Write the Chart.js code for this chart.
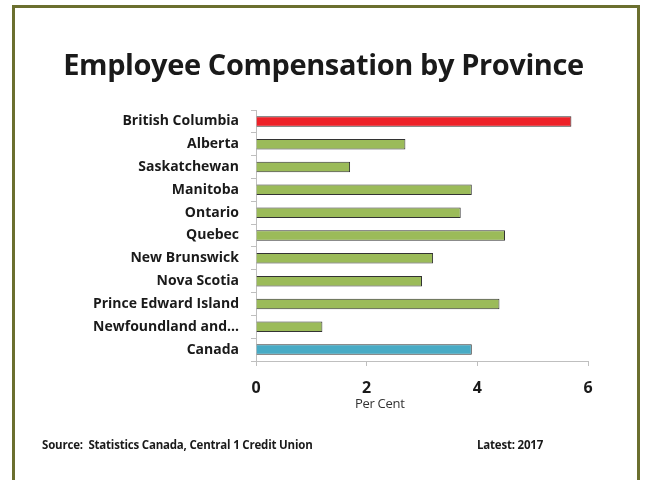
<!DOCTYPE html>
<html>
<head>
<meta charset="utf-8">
<script src="https://cdn.jsdelivr.net/npm/chart.js@4"></script>
<style>
  html, body { margin: 0; padding: 0; background: #fff; }
  #wrap { position: relative; width: 647px; height: 480px; overflow: hidden; }
  #frame { position: absolute; left: 12px; top: 5px; width: 628px; height: 490px;
           border: 3px solid #6b6f2f; box-sizing: border-box; }
  #title { position: absolute; left: 0; width: 647px; top: 44px; text-align: center;
           font-family: "Open Sans", sans-serif; font-weight: bold; font-size: 29px; color: #1a1a1a;
           letter-spacing: -0.4px; }
  .foot { position: absolute; top: 437px; font-family: "Open Sans", sans-serif; font-weight: bold;
          font-size: 11.5px; color: #1a1a1a; letter-spacing: -0.2px; white-space: pre; }
  #xtitle { position: absolute; left: 355px; top: 394px; font-family: "Open Sans", sans-serif;
            font-size: 13px; color: #333; letter-spacing: -0.3px; }
  canvas { position: absolute; left: 0; top: 0; }
</style>
</head>
<body>
<div id="wrap">
  <canvas id="myChart" width="647" height="480"></canvas>
  <div id="frame"></div>
  <div id="title">Employee Compensation by Province</div>
  <div id="xtitle">Per Cent</div>
  <div class="foot" style="left:42px">Source:  Statistics Canada, Central 1 Credit Union</div>
  <div class="foot" style="left:477px">Latest: 2017</div>
</div>
<script>
var provinces = ["British Columbia", "Alberta", "Saskatchewan", "Manitoba", "Ontario", "Quebec",
                 "New Brunswick", "Nova Scotia", "Prince Edward Island", "Newfoundland and\u2026", "Canada"];
var compensation = [5.7, 2.7, 1.7, 3.9, 3.7, 4.5, 3.2, 3.0, 4.4, 1.2, 3.9];
var xTicks = [0, 2, 4, 6];

var colors = [];
for (var i = 0; i < provinces.length; i++) {
    if (provinces[i] === "British Columbia") colors.push("#ee2128");
    else if (provinces[i] === "Canada") colors.push("#48abc5");
    else colors.push("#9bbb59");
}

var ctx = document.getElementById("myChart").getContext("2d");
var myChart = new Chart(ctx, {
    type: "bar",
    data: {
        labels: provinces,
        datasets: [{
            data: compensation,
            backgroundColor: colors,
            borderColor: "#333333",
            borderWidth: 1,
            barPercentage: 0.46,
            categoryPercentage: 1
        }]
    },
    options: {
        indexAxis: "y",
        responsive: false,
        animation: false,
        layout: { padding: { left: 0, right: 59, top: 110, bottom: 69 } },
        plugins: { legend: { display: false }, tooltip: { enabled: false } },
        scales: {
            x: {
                min: 0, max: 6,
                afterBuildTicks: function (scale) {
                    scale.ticks = xTicks.map(function (v) { return { value: v }; });
                },
                afterFit: function (scale) { scale.height = 50; },
                grid: { drawOnChartArea: false, drawTicks: true, tickLength: 5, color: "#bfbfbf" },
                border: { display: true, color: "#bfbfbf" },
                ticks: { padding: 13, color: "#1a1a1a", font: { family: "Open Sans", weight: "bold", size: 16 } }
            },
            y: {
                afterFit: function (scale) { scale.width = 256; },
                grid: { drawOnChartArea: false, drawTicks: true, tickLength: 5, color: "#bfbfbf", offset: true },
                border: { display: true, color: "#bfbfbf" },
                ticks: { padding: 12, color: "#1a1a1a", font: { family: "Open Sans", weight: "bold", size: 14 } }
            }
        }
    }
});
</script>
</body>
</html>
